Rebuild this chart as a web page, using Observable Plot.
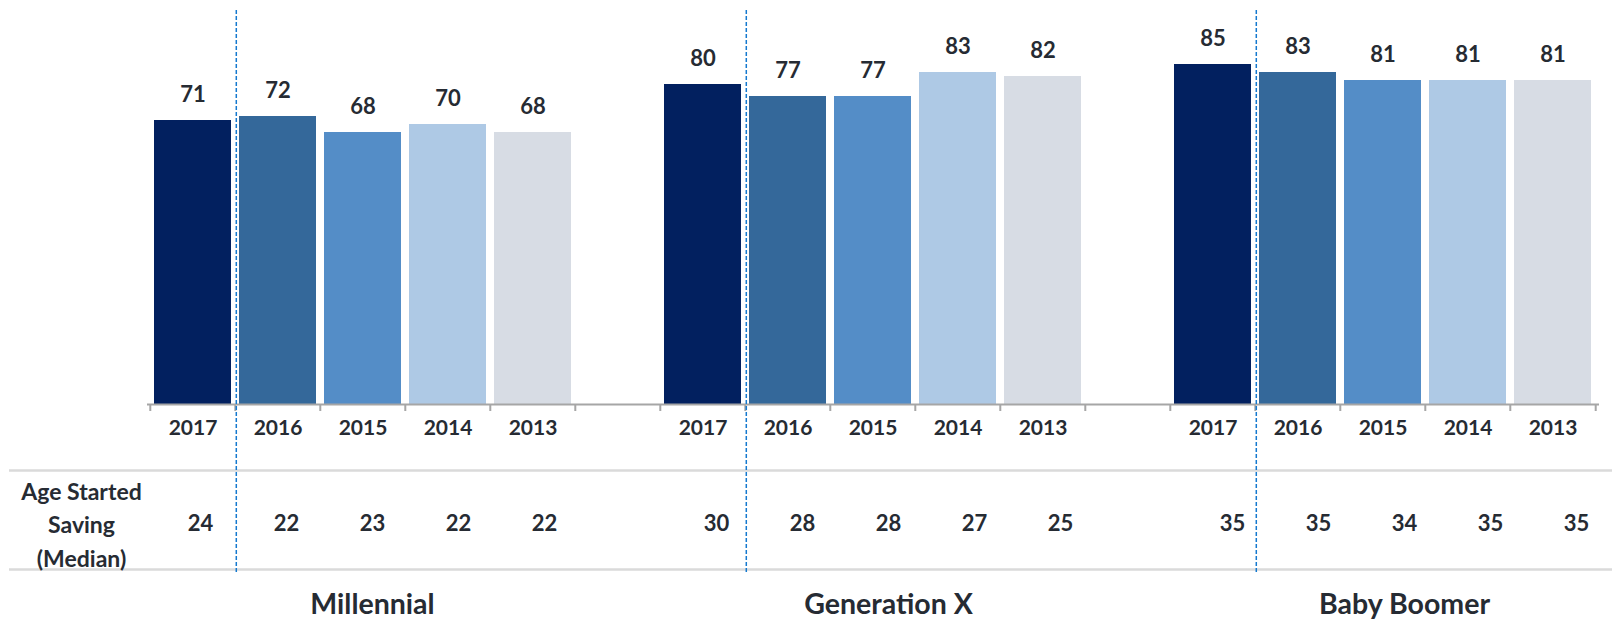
<!DOCTYPE html>
<html>
<head>
<meta charset="utf-8">
<script src="https://cdn.jsdelivr.net/npm/d3@7"></script>
<script src="https://cdn.jsdelivr.net/npm/@observablehq/plot@0.6"></script>
<style>
  html, body { margin: 0; padding: 0; background: #fff; overflow: hidden; }
  #wrap { position: relative; width: 1612px; height: 622px; }
</style>
</head>
<body>
<div id="wrap"></div>
<script>
// ---- data ----
const groups = ["Millennial", "Generation X", "Baby Boomer"];
const years = ["2017", "2016", "2015", "2014", "2013"];
const millennialValues = [71, 72, 68, 70, 68];
const genXValues = [80, 77, 77, 83, 82];
const boomerValues = [85, 83, 81, 81, 81];
const millennialAge = [24, 22, 23, 22, 22];
const genXAge = [30, 28, 28, 27, 25];
const boomerAge = [35, 35, 34, 35, 35];
const rowLabel = "Age Started\nSaving\n(Median)";
const yearColors = ["#02205f", "#34689a", "#548dc7", "#aec9e5", "#d7dce4"];

const valuesByGroup = [millennialValues, genXValues, boomerValues];
const ageByGroup = [millennialAge, genXAge, boomerAge];

// ---- build tables ----
const slots = [];
const data = [];
groups.forEach((g, gi) => {
  years.forEach((y, yi) => {
    const key = g + "|" + y;
    slots.push(key);
    data.push({key, group: g, year: y, value: valuesByGroup[gi][yi], age: ageByGroup[gi][yi]});
  });
  if (gi < groups.length - 1) slots.push("gap" + gi);
});
const groupLabels = groups.map(g => ({key: g + "|2015", label: g}));
const dividerKeys = groups.map(g => g + "|2016");

// ---- layout ----
const W = 1612, H = 622;
const mL = 147, mR = 13, mT = 4, mB = 218;
const step = (W - mL - mR) / slots.length;
const ink = "#262b33";
const font = "Lato, 'Open Sans', sans-serif";

const main = Plot.plot({
  width: W, height: H,
  marginLeft: mL, marginRight: mR, marginTop: mT, marginBottom: mB,
  style: {fontFamily: font, background: "white"},
  x: {type: "band", domain: slots, paddingInner: 0.09, paddingOuter: 0.045, axis: null},
  y: {domain: [0, 100], axis: null},
  color: {domain: years, range: yearColors},
  marks: [
    // table lines
    Plot.ruleY([0], {dy: 66, insetLeft: -138, insetRight: -14, stroke: "#dadada", strokeWidth: 2.5}),
    Plot.ruleY([0], {dy: 165, insetLeft: -138, insetRight: -14, stroke: "#dadada", strokeWidth: 2.5}),
    // bars
    Plot.barY(data, {x: "key", y: "value", fill: "year"}),
    // axis line and ticks
    Plot.ruleY([0], {stroke: "#a6a6a6", strokeWidth: 2}),
    Plot.ruleX(slots, {x: d => d, y1: 0, y2: 0, dx: -step / 2, insetBottom: -7, stroke: "#a6a6a6", strokeWidth: 2}),
    Plot.ruleX(slots.slice(-1), {x: d => d, y1: 0, y2: 0, dx: step / 2, insetBottom: -7, stroke: "#a6a6a6", strokeWidth: 2}),
    // dashed dividers
    Plot.ruleX(dividerKeys, {x: d => d, dx: -step / 2 + 1, insetTop: 6, insetBottom: -169,
      stroke: "#1479cf", strokeWidth: 1.5, strokeDasharray: "4,2"}),
    // value labels
    Plot.text(data, {x: "key", y: "value", text: d => String(d.value), dy: -26,
      fontSize: 22, fontWeight: 700, fill: ink}),
    // year labels
    Plot.text(data, {x: "key", text: "year", frameAnchor: "bottom", lineAnchor: "middle", dy: 24,
      fontSize: 21, fontWeight: 700, fill: ink}),
    // row label
    Plot.text([rowLabel], {text: d => d, frameAnchor: "bottom-left", lineAnchor: "middle", dx: -66, dy: 118,
      textAnchor: "middle", lineHeight: 1.45, fontSize: 23, fontWeight: 700, fill: ink})
  ]
});

const overlay = Plot.plot({
  width: W, height: H,
  marginLeft: mL, marginRight: mR, marginTop: mT, marginBottom: mB,
  style: {fontFamily: font, background: "transparent", position: "absolute", top: "0px", left: "0px"},
  x: {type: "band", domain: slots, range: [152.7, 1623.8], paddingInner: 0.09, paddingOuter: 0.045, axis: null},
  y: {domain: [0, 100], axis: null},
  marks: [
    Plot.text(data, {x: "key", text: d => String(d.age), frameAnchor: "bottom", lineAnchor: "middle", dy: 119,
      fontSize: 22, fontWeight: 700, fill: ink}),
    Plot.text(groupLabels, {x: "key", text: "label", frameAnchor: "bottom", lineAnchor: "middle", dy: 200,
      fontSize: 28.5, fontWeight: 700, fill: ink})
  ]
});

const wrap = document.getElementById("wrap");
wrap.appendChild(main);
wrap.appendChild(overlay);
</script>
</body>
</html>
